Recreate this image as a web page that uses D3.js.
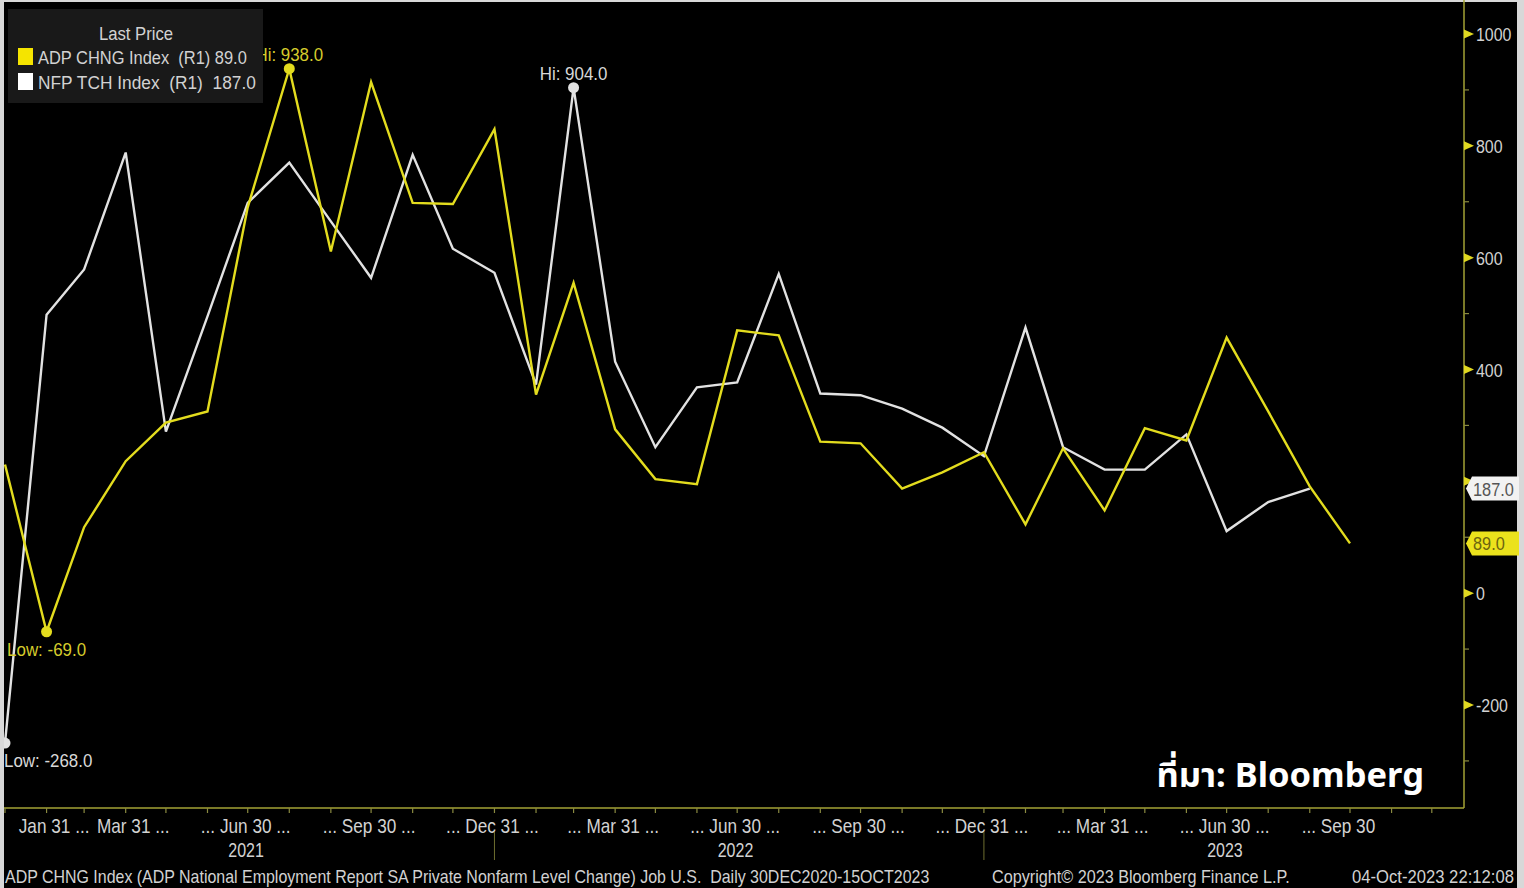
<!DOCTYPE html>
<html lang="en">
<head>
<meta charset="UTF-8">
<title>ADP CHNG vs NFP TCH</title>
<script src="https://cdnjs.cloudflare.com/ajax/libs/d3/7.8.5/d3.min.js"></script>
<style>
    body { margin: 0; background: #d8d8d8; overflow: hidden; }
    svg { display: block; }
    .bb { font-family: "Liberation Sans", Arial, sans-serif; }
</style>
</head>
<body>
<div id="chart"></div>
<script>
// monthly points, first month = Dec 2020
const startMonth = [2020, 11];
const adpValues = [230, -69, 118, 236, 305, 325, 690, 938, 611, 914, 698, 696, 830,
                   355, 555, 293, 204, 195, 470, 461, 271, 268, 187, 216, 252,
                   123, 259, 148, 295, 273, 457, 325, 191, 89];
const nfpValues = [-268, 498, 579, 788, 289, 495, 698, 770, 665, 564, 784, 616, 573,
                   373, 904, 414, 261, 368, 377, 571, 357, 354, 330, 296, 245,
                   475, 261, 221, 221, 284, 111, 163, 187];
const yTicks = [-200, 0, 200, 400, 600, 800, 1000];
const yMinorTicks = [-300, -100, 100, 300, 500, 700, 900];
const xLabels = [
    { date: [2021, 0], pre: "", text: "Jan 31", post: " ..." },
    { date: [2021, 2], pre: "", text: "Mar 31", post: " ..." },
    { date: [2021, 5], pre: "... ", text: "Jun 30", post: " ..." },
    { date: [2021, 8], pre: "... ", text: "Sep 30", post: " ..." },
    { date: [2021, 11], pre: "... ", text: "Dec 31", post: " ..." },
    { date: [2022, 2], pre: "... ", text: "Mar 31", post: " ..." },
    { date: [2022, 5], pre: "... ", text: "Jun 30", post: " ..." },
    { date: [2022, 8], pre: "... ", text: "Sep 30", post: " ..." },
    { date: [2022, 11], pre: "... ", text: "Dec 31", post: " ..." },
    { date: [2023, 2], pre: "... ", text: "Mar 31", post: " ..." },
    { date: [2023, 5], pre: "... ", text: "Jun 30", post: " ..." },
    { date: [2023, 8], pre: "... ", text: "Sep 30", post: "" }
];
const years = [2021, 2022, 2023];
const series = [
    { name: "ADP CHNG Index", values: adpValues, color: "#e3dc1e", label: "#d6cc2c", swatch: "#f5e400" },
    { name: "NFP TCH Index", values: nfpValues, color: "#e2e2e2", label: "#d8d8d8", swatch: "#ffffff" }
];
const footerLeft = "ADP CHNG Index (ADP National Employment Report SA Private Nonfarm Level Change) Job U.S.  Daily 30DEC2020-15OCT2023";
const footerMid = "Copyright\u00a9 2023 Bloomberg Finance L.P.";
const footerRight = "04-Oct-2023 22:12:08";

const W = 1524, H = 888;
const axisColor = "#a3a234";
const textColor = "#d2d2d2";
const fmt = v => d3.format(".1f")(v).replace("\u2212", "-");

function monthEnd(y, m) { return new Date(y, m + 1, 0); }
function pointDate(i) { return monthEnd(startMonth[0], startMonth[1] + i); }

// condensed terminal-style text: squeeze horizontally around the anchor,
// either by a fixed factor or so that it fills a given width
function label(parent, tx, ty, str, o = {}) {
    const t = parent.append("text")
        .attr("class", "bb")
        .attr("text-anchor", o.anchor || "start")
        .attr("font-size", o.size || 18)
        .attr("fill", o.fill || textColor)
        .attr("xml:space", "preserve")
        .text(str);
    const k = o.width ? o.width / t.node().getComputedTextLength() : (o.k || 0.9);
    t.attr("transform", `translate(${tx},${ty}) scale(${k},1)`);
    return t;
}

const x = d3.scaleTime()
    .domain([monthEnd(2020, 11), monthEnd(2023, 8)])
    .range([5, 1350]);
const y = d3.scaleLinear().domain([-200, 1000]).range([705, 34]);

const plot = { left: 4, right: 1464, top: 2, bottom: 808 };

const svg = d3.select("#chart").append("svg")
    .attr("width", W).attr("height", H);

svg.append("rect").attr("x", 4).attr("y", 2).attr("width", 1513).attr("height", H - 2)
    .attr("fill", "#000");

svg.append("defs").append("clipPath").attr("id", "plotclip")
    .append("rect").attr("x", plot.left).attr("y", plot.top)
    .attr("width", plot.right - plot.left).attr("height", plot.bottom - plot.top);

// lines
const line = d3.line().x((d, i) => x(pointDate(i))).y(d => y(d));
const lines = svg.append("g").attr("clip-path", "url(#plotclip)");
series.slice().reverse().forEach(s => {
    lines.append("path")
        .datum(s.values)
        .attr("fill", "none")
        .attr("stroke", s.color)
        .attr("stroke-width", 2.4)
        .attr("d", line);
});

// hi / low markers
series.forEach(s => {
    const hiI = d3.maxIndex(s.values), loI = d3.minIndex(s.values);
    [[hiI, "Hi: "], [loI, "Low: "]].forEach(([i, tag]) => {
        const cx = x(pointDate(i)), cy = y(s.values[i]);
        lines.append("circle").attr("cx", cx).attr("cy", cy).attr("r", 5.5).attr("fill", s.color);
        const isHi = tag === "Hi: ";
        const ty = isHi ? cy - 8 : cy + 24;
        const k = 0.94;
        const t = label(svg, cx, ty, tag + fmt(s.values[i]),
            { anchor: "middle", fill: s.label, size: 18, k: k });
        // keep low labels inside the plot's left edge
        const w = t.node().getComputedTextLength() * k;
        if (cx - w / 2 < 4) {
            t.attr("text-anchor", "start").attr("transform", `translate(4,${ty}) scale(${k},1)`);
        }
    });
});

// right axis
const ax = svg.append("g");
ax.append("line").attr("x1", plot.right).attr("x2", plot.right)
    .attr("y1", 0).attr("y2", plot.bottom).attr("stroke", axisColor).attr("stroke-width", 1.5);
ax.append("line").attr("x1", plot.left).attr("x2", plot.right)
    .attr("y1", plot.bottom).attr("y2", plot.bottom).attr("stroke", axisColor).attr("stroke-width", 1.5);

const lastVals = series.map(s => s.values[s.values.length - 1]);
yTicks.forEach(v => {
    const ty = y(v);
    ax.append("path").attr("d", `M${plot.right},${ty - 4.5}L${plot.right + 10},${ty}L${plot.right},${ty + 4.5}Z`)
        .attr("fill", "#e0d820");
    // tick labels hidden under the last value tags
    if (lastVals.some(lv => Math.abs(y(lv) - ty) < 16)) return;
    label(ax, plot.right + 12, ty + 7, String(v), { size: 19, k: 0.84 });
});
yMinorTicks.forEach(v => {
    ax.append("line").attr("x1", plot.right).attr("x2", plot.right + 5)
        .attr("y1", y(v)).attr("y2", y(v)).attr("stroke", "#8a8a40").attr("stroke-width", 1.2);
});

// last value tags
[{ s: series[1], fill: "#f2f2f2", text: "#555555" }, { s: series[0], fill: "#ebe21c", text: "#6b6410" }]
    .forEach(t => {
        const v = t.s.values[t.s.values.length - 1];
        const ty = y(v), x0 = plot.right + 2;
        ax.append("path")
            .attr("d", `M${x0},${ty}L${x0 + 6},${ty - 12}L${x0 + 53},${ty - 12}L${x0 + 53},${ty + 12}L${x0 + 6},${ty + 12}Z`)
            .attr("fill", t.fill);
        label(ax, x0 + 7, ty + 7, fmt(v), { fill: t.text, size: 19, k: 0.86 });
    });

// x axis ticks (monthly)
const months = d3.timeMonth.range(new Date(2020, 11, 1), new Date(2023, 11, 1))
    .map(d => monthEnd(d.getFullYear(), d.getMonth()));
months.forEach(d => {
    const tx = x(d);
    if (tx < plot.left || tx > plot.right) return;
    ax.append("line").attr("x1", tx).attr("x2", tx).attr("y1", plot.bottom).attr("y2", plot.bottom + 5)
        .attr("stroke", "#8a8a40").attr("stroke-width", 1.2);
});

xLabels.forEach(l => {
    const tx = x(monthEnd(l.date[0], l.date[1]));
    const g = ax.append("g").attr("transform", `translate(${tx - 2},833) scale(0.86,1)`);
    const main = g.append("text").attr("class", "bb").attr("text-anchor", "middle")
        .attr("font-size", 20).attr("fill", textColor).text(l.text);
    const half = main.node().getComputedTextLength() / 2;
    if (l.pre) g.append("text").attr("class", "bb").attr("x", -half).attr("text-anchor", "end")
        .attr("font-size", 20).attr("fill", textColor).attr("xml:space", "preserve").text(l.pre);
    if (l.post) g.append("text").attr("class", "bb").attr("x", half).attr("text-anchor", "start")
        .attr("font-size", 20).attr("fill", textColor).attr("xml:space", "preserve").text(l.post);
});

years.forEach((yr, i) => {
    label(ax, x(new Date(yr, 6, 1)) - 3, 857, String(yr), { anchor: "middle", size: 20, k: 0.8 });
    if (i > 0) {
        const sx = x(monthEnd(yr - 1, 11));
        ax.append("line").attr("x1", sx).attr("x2", sx).attr("y1", 832).attr("y2", 860)
            .attr("stroke", "#6e6e30").attr("stroke-width", 1);
    }
});

// footer
label(ax, 5, 883, footerLeft, { size: 18, width: 925 });
label(ax, 992, 883, footerMid, { size: 18, width: 298 });
label(ax, 1352, 883, footerRight, { size: 18, width: 162 });

// legend
const lg = svg.append("g");
lg.append("rect").attr("x", 8).attr("y", 9).attr("width", 255).attr("height", 94).attr("fill", "#191919");
label(lg, 136, 40, "Last Price", { anchor: "middle", size: 19, k: 0.88 });
series.forEach((s, i) => {
    const ly = 64 + i * 25;
    lg.append("rect").attr("x", 18).attr("y", ly - 16).attr("width", 15).attr("height", 17)
        .attr("fill", s.swatch);
    label(lg, 38, ly, s.name + "  (R1) " + (i === 0 ? "" : " ") + fmt(s.values[s.values.length - 1]),
        { size: 19, width: i === 0 ? 209 : 218 });
});

// source note
svg.append("text").attr("x", 1424).attr("y", 787).attr("text-anchor", "end")
    .attr("font-family", "'Noto Sans', 'Noto Sans Thai', sans-serif").attr("font-weight", "bold")
    .attr("font-size", 34.5).attr("fill", "#ffffff").text("ที่มา: Bloomberg");
</script>
</body>
</html>
